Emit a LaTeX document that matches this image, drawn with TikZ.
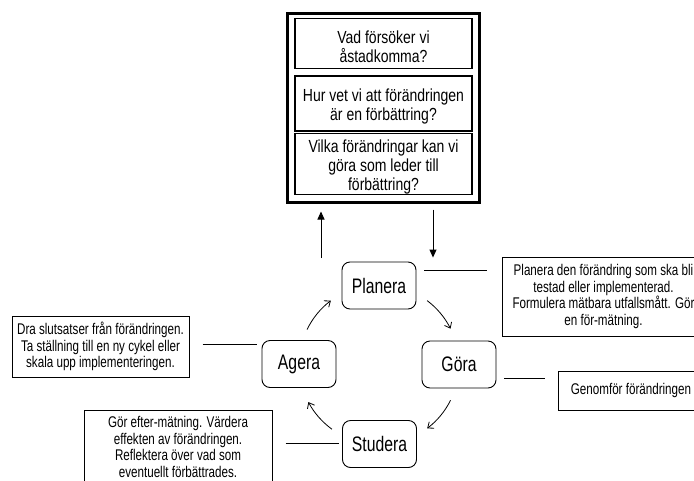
\documentclass[tikz,border=0pt]{standalone}
\usepackage{fontspec}
\setmainfont{Liberation Sans}[FakeStretch=0.75]
\newfontfamily\qfont{Liberation Sans}[FakeStretch=0.8]
\newcommand\toppad{\rule{0pt}{19pt}}
\usetikzlibrary{arrows.meta,calc}
\begin{document}
\begin{tikzpicture}[x=1pt,y=-1pt,
  cyc/.style={draw, rounded corners=8pt, minimum width=74pt, minimum height=47pt, inner sep=0pt,
    line width=0.9pt, font=\fontsize{21}{24}\selectfont},
  desc/.style={draw, line width=1pt, align=center, inner sep=0pt,
    font=\fontsize{15.5}{16.8}\selectfont},
  qbox/.style={draw, line width=1.1pt, align=center, inner sep=0pt, minimum width=177pt,
    font=\qfont\fontsize{17.5}{18.8}\selectfont},
  link/.style={line width=0.9pt},
  big/.style={line width=0.9pt, -{Triangle[length=8pt,width=7pt]}},
  barb/.style={line width=0.8pt, -{Straight Barb[length=5pt,width=8pt]}}
]
\useasboundingbox (0,0) rectangle (694,480);
\clip (0,0) rectangle (694,480);

% question frame
\node[draw, line width=3pt, minimum width=192pt, minimum height=189pt, inner sep=0pt] (outer) at (383,107.5) {};
\node[qbox, minimum height=50pt] (q1) at (383.5,43.5) {\toppad Vad försöker vi\\åstadkomma?};
\node[qbox, minimum height=55pt] (q2) at (383.5,103.5) {\toppad Hur vet vi att förändringen\\är en förbättring?};
\node[qbox, minimum height=60pt] (q3) at (383.5,164) {\toppad Vilka förändringar kan vi\\göra som leder till\\förbättring?};

% cycle
\node[cyc] (Planera) at (379,285.5) {Planera};
\node[cyc] (Gora) at (459,364.5) {Göra};
\node[cyc] (Studera) at (379.5,444) {Studera};
\node[cyc] (Agera) at (299,364) {Agera};

% descriptions
\node[desc, minimum width=203pt, minimum height=79pt] (pdesc) at (603.5,296.5)
  {Planera den förändring som ska bli\\testad eller implementerad.\\Formulera mätbara utfallsmått. Gör\\en för-mätning.};
\node[desc, minimum width=146pt, minimum height=39pt] (gdesc) at (631,390.5)
  {Genomför förändringen};
\node[desc, minimum width=177pt, minimum height=61pt] (adesc) at (100.5,346.5)
  {Dra slutsatser från förändringen.\\Ta ställning till en ny cykel eller\\skala upp implementeringen.};
\node[desc, minimum width=188pt, minimum height=74pt] (sdesc) at (178,447)
  {Gör efter-mätning. Värdera\\effekten av förändringen.\\Reflektera över vad som\\eventuellt förbättrades.};

% links to descriptions
\draw[link, shorten <=8pt, shorten >=15pt] (Planera.east |- 0,270) -- (pdesc.west |- 0,270);
\draw[link, shorten <=8pt, shorten >=13pt] (Gora.east |- 0,378) -- (gdesc.west |- 0,378);
\draw[link, shorten <=13pt, shorten >=5pt] (adesc.east |- 0,344) -- (Agera.west |- 0,344);
\draw[link, shorten <=13pt, shorten >=3pt] (sdesc.east |- 0,443) -- (Studera.west |- 0,443);

% arrows to and from the question frame
\coordinate (upstart) at (321,258);
\draw[big, shorten >=8pt] (upstart) -- (outer.south -| upstart);
\draw[big, shorten <=6pt, shorten >=4pt] (outer.south -| 433,0) -- (Planera.north -| 433,0);

% cycle arrows
\coordinate (C) at (379,364.5);
\draw[barb] ($(C)+(154:80pt)$) arc[start angle=154, end angle=127, radius=80pt];
\draw[barb] ($(C)+(53:80pt)$) arc[start angle=53, end angle=26.6, radius=80pt];
\draw[barb] ($(C)+(-26.6:80pt)$) arc[start angle=-26.6, end angle=-53, radius=80pt];
\draw[barb] ($(C)+(-126:80pt)$) arc[start angle=-126, end angle=-152, radius=80pt];
\end{tikzpicture}
\end{document}
